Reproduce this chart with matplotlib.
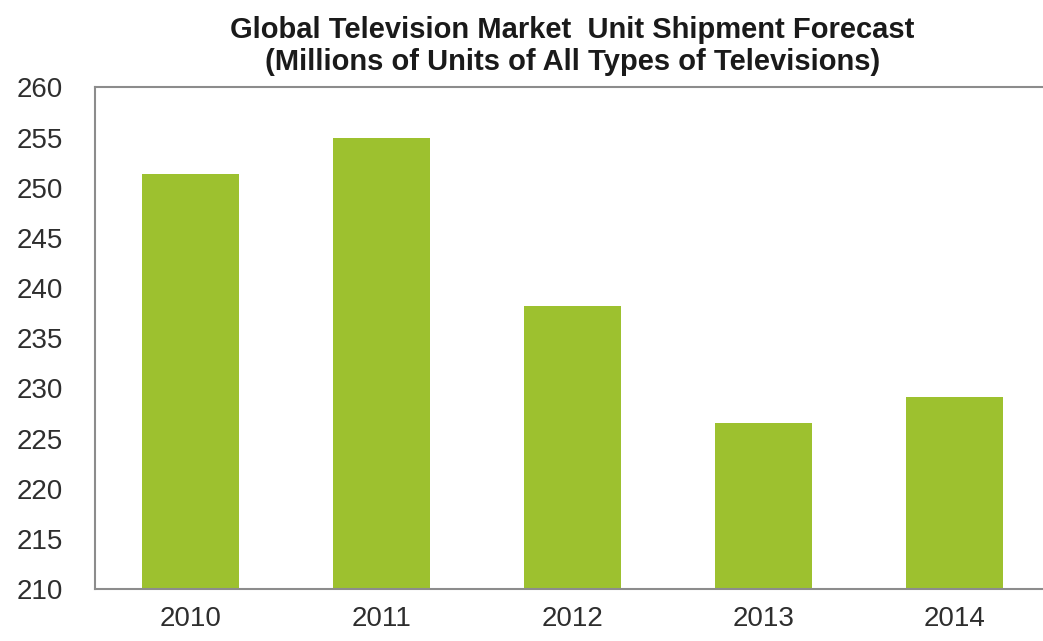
import matplotlib
matplotlib.use("Agg")
import matplotlib.pyplot as plt

# data
years = ["2010", "2011", "2012", "2013", "2014"]
shipments = [251.4, 255.0, 238.2, 226.6, 229.1]
y_ticks = [210, 215, 220, 225, 230, 235, 240, 245, 250, 255, 260]

plt.rcParams['font.family'] = ['Liberation Sans', 'DejaVu Sans']

fig = plt.figure(figsize=(10.43, 6.41), dpi=100)
ax = fig.add_axes([0.0911, 0.0811, 0.9156, 0.7824])

x = list(range(len(years)))
ax.bar(x, shipments, width=0.51, color='#9dc12f', zorder=2)

ax.set_xlim(-0.5, len(years) - 0.5)
ax.set_ylim(210, 260)
ax.set_yticks(y_ticks)
ax.set_xticks(x)
ax.set_xticklabels(years)

ax.tick_params(axis='y', length=0, pad=23, labelsize=20, labelcolor='#2e2e2e')
ax.tick_params(axis='x', length=0, pad=12, labelsize=20, labelcolor='#2e2e2e')

for side in ['left', 'top', 'bottom', 'right']:
    ax.spines[side].set_color('#8c8c8c')
    ax.spines[side].set_linewidth(1.5)

fig.text(0.549, 0.953, "Global Television Market  Unit Shipment Forecast",
         ha='center', va='center', fontsize=21, fontweight='bold', color='#1a1a1a')
fig.text(0.549, 0.904, "(Millions of Units of All Types of Televisions)",
         ha='center', va='center', fontsize=21, fontweight='bold', color='#1a1a1a')

fig.savefig("out.png", dpi=100)
